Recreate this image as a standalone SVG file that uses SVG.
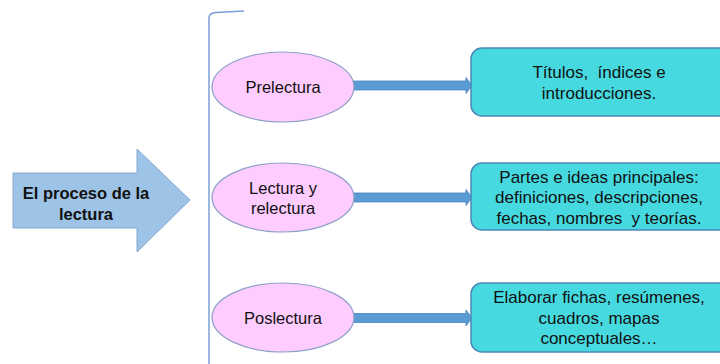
<svg xmlns="http://www.w3.org/2000/svg" width="720" height="364" viewBox="0 0 720 364">
<style>
text{font-family:"Liberation Sans",Arial,sans-serif;font-size:16.5px;fill:#111;text-anchor:middle;dominant-baseline:central;white-space:pre}
.ell{fill:#FFCCFF;stroke:#8EA0C8;stroke-width:1.2}
.box{fill:#46DAE0;stroke:#4C86B8;stroke-width:1.5}
.conn{fill:#5B9BD5;stroke:#4A86C0;stroke-width:0.8}
.b{font-weight:bold}
.t{font-size:17px}
</style>
<rect width="720" height="364" fill="#fff"/>
<g id="main">
<path d="M13,173 H137 V149 L190,200 L137,252 V228 H13 Z" fill="#9DC3E6" stroke="#86A9CF" stroke-width="1"/>
<text class="b" x="86" y="193">El proceso de la</text>
<text class="b" x="86" y="214">lectura</text>
</g>
<g id="bracket">
<path d="M209,364 V18 Q209,13 216,12.5 L244,11" fill="none" stroke="#7A9FD8" stroke-width="1.5"/>
</g>
<g id="connectors">
<path class="conn" d="M352,81 H466 V77.5 L472,85.5 L466,93.5 V90 H352 Z"/>
<path class="conn" d="M352,193 H466 V189.5 L472,197.5 L466,205.5 V202 H352 Z"/>
<path class="conn" d="M352,313.5 H466 V310 L472,318 L466,326 V322.5 H352 Z"/>
</g>
<g id="prelectura">
<ellipse class="ell" cx="283" cy="87" rx="71" ry="35"/>
<text x="283" y="87">Prelectura</text>
</g>
<g id="lectura">
<ellipse class="ell" cx="283" cy="197.5" rx="71" ry="34.5"/>
<text x="283" y="187.5">Lectura y</text>
<text x="283" y="207.5">relectura</text>
</g>
<g id="poslectura">
<ellipse class="ell" cx="283" cy="317.5" rx="71" ry="34.5"/>
<text x="283" y="317.5">Poslectura</text>
</g>
<g id="box1">
<rect class="box" x="471" y="48" width="260" height="68" rx="11"/>
<text class="t" x="599" y="72">Títulos,  índices e</text>
<text class="t" x="599" y="93">introducciones.</text>
</g>
<g id="box2">
<rect class="box" x="471" y="163" width="260" height="67" rx="11"/>
<text class="t" x="599" y="177">Partes e ideas principales:</text>
<text class="t" x="599" y="197.5">definiciones, descripciones,</text>
<text class="t" x="599" y="218">fechas, nombres  y teorías.</text>
</g>
<g id="box3">
<rect class="box" x="471" y="283" width="260" height="69" rx="11"/>
<text class="t" x="599" y="297">Elaborar fichas, resúmenes,</text>
<text class="t" x="599" y="318">cuadros, mapas</text>
<text class="t" x="599" y="338">conceptuales…</text>
</g>
</svg>
